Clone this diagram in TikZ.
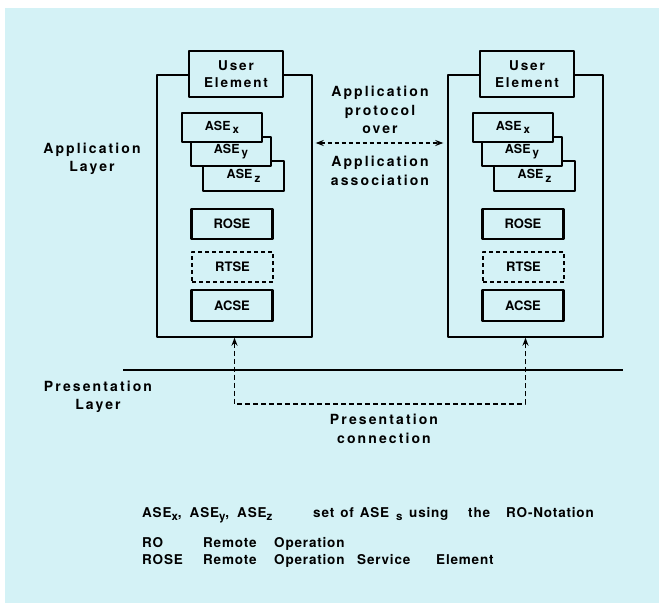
\documentclass[tikz,border=0pt]{standalone}
\usepackage{fontspec}
\setmainfont{TeX Gyre Heros}
\newfontfamily\lblfont[LetterSpace=15]{TeX Gyre Heros}
\newfontfamily\uefont[LetterSpace=14]{TeX Gyre Heros}
\newfontfamily\keyfont[LetterSpace=6]{TeX Gyre Heros}
\usetikzlibrary{arrows.meta}
\definecolor{bgc}{RGB}{212,242,246}
\newcommand{\lowsub}[1]{\raisebox{-3.5pt}{\fontsize{11.5}{11.5}\selectfont #1}}

\begin{document}
\begin{tikzpicture}[x=1pt, y=-1pt, line join=round, >={Stealth[length=8pt,width=6pt]},
	layerbox/.style={draw, line width=1.4pt, minimum width=155pt, minimum height=262pt, inner sep=0pt},
	elem/.style={draw, line width=2.4pt, fill=bgc, minimum width=81pt, minimum height=30pt, inner sep=0pt, font=\fontsize{13}{15}\selectfont\bfseries},
	asebox/.style={elem, minimum width=80pt, minimum height=29pt, font=\fontsize{12.5}{15}\selectfont\bfseries},
	lbl/.style={align=center, font=\fontsize{14}{18.5}\lblfont\bfseries},
	key/.style={anchor=base west, inner sep=0pt, font=\fontsize{13.5}{15}\keyfont\bfseries}]
	\useasboundingbox (0,0) rectangle (659,605);
	\fill[bgc] (5,8) rectangle (659,603);
	% the two application entities
	\foreach \i/\dx in {1/0,2/291}{
		\begin{scope}[xshift=\dx pt]
			\node[layerbox] (app\i) at (234.5,206) {};
			\node[elem, minimum width=94pt, minimum height=46pt, align=center, font=\fontsize{13.5}{17}\uefont\bfseries] (ue\i) at (236,74) {User\\Element};
			\node[asebox, minimum width=81pt, minimum height=30pt] (asez\i) at (243.5,176) {ASE\,\lowsub{z}};
			\node[asebox] (asey\i) at (231,151.5) {ASE\,\lowsub{y}};
			\node[asebox] (asex\i) at (222,127.5) {ASE\,\lowsub{x}};
			\node[elem] (rose\i) at (232,224) {ROSE};
			\node[elem, line width=1.4pt, dash pattern=on 4pt off 3pt] (rtse\i) at (232.5,267) {RTSE};
			\node[elem, minimum height=31pt] (acse\i) at (232,305.5) {ACSE};
		\end{scope}
	}
	% layers
	\draw[line width=1.5pt] (123,370) -- (623,370);
	\node[lbl] (alayer) at (92,159) {Application\\Layer};
	\node[lbl] (player) at (98,397) {Presentation\\Layer};
	% association and connection
	\coordinate (assoc) at (0,143);
	\coordinate (pres) at (0,404);
	\draw[<->, line width=1.3pt, dash pattern=on 4pt off 3pt, shorten <=3pt, shorten >=4pt] (app1.east |- assoc) -- (app2.west |- assoc);
	\node[lbl] (proto) at (380,110) {Application\\protocol\\over};
	\node[lbl] (assocl) at (380,171) {Application\\association};
	\draw[<->, line width=1.3pt, dash pattern=on 5pt off 3pt] (app1.south) -- (app1.south |- pres) -| (app2.south);
	\node[lbl] (conn) at (384,429) {Presentation\\connection};
	% key
	\node[key] (k1) at (142,517) {ASE\lowsub{x},\hspace{8pt}ASE\lowsub{y},\hspace{8pt}ASE\lowsub{z}};
	\node[key] (k1d) at (313,517) {\makebox[96pt][l]{set\hspace{6pt}of\hspace{6pt}ASE\hspace{7pt}\lowsub{s}}\makebox[59pt][l]{using}\makebox[38pt][l]{the}RO-Notation};
	\node[key] (k2) at (142,547) {RO};
	\node[key] (k2d) at (203,547) {\makebox[71pt][l]{Remote}Operation};
	\node[key] (k3) at (142,564) {ROSE};
	\node[key] (k3d) at (203,564) {\makebox[71pt][l]{Remote}\makebox[83pt][l]{Operation}\makebox[79pt][l]{Service}Element};
\end{tikzpicture}
\end{document}
